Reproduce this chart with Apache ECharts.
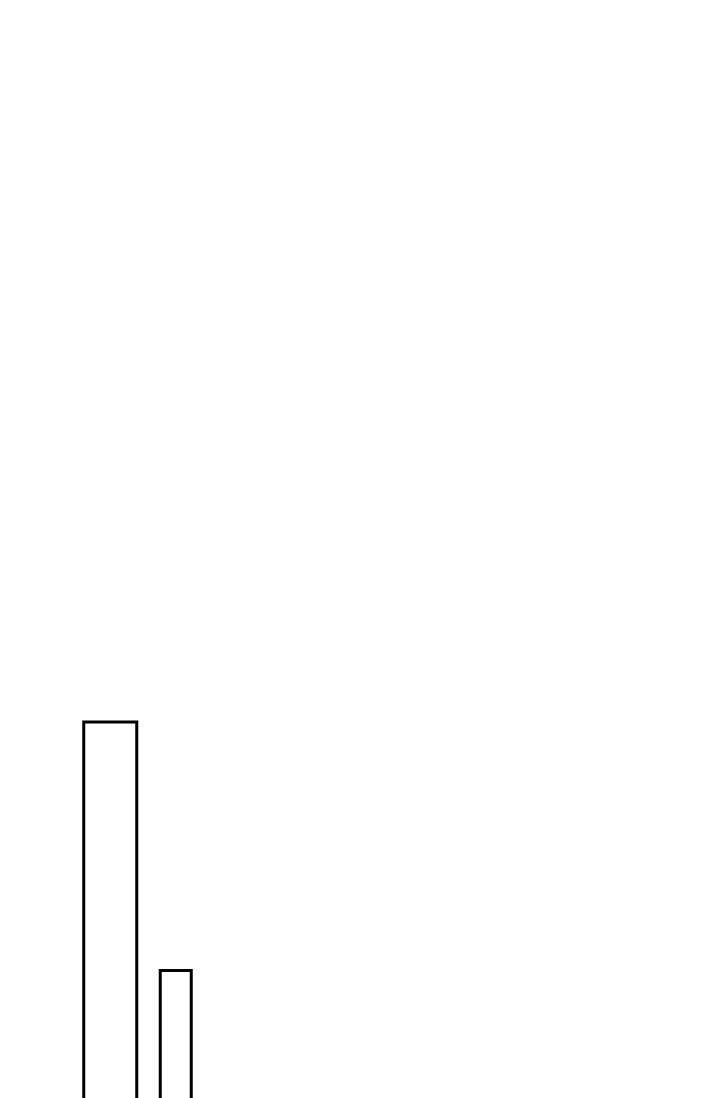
<!DOCTYPE html>
<html>
<head>
<meta charset="utf-8">
<script src="https://cdn.jsdelivr.net/npm/echarts@6/dist/echarts.min.js"></script>
<style>
  html, body { margin: 0; padding: 0; background: #fff; overflow: hidden; }
  #chart { width: 720px; height: 1098px; }
</style>
</head>
<body>
<div id="chart"></div>
<script>
// data
var categories = ['A', 'B'];
var tallBar = [28, '-'];
var shortBar = ['-', 10];

var myChart = echarts.init(document.getElementById('chart'));

var option = {
  backgroundColor: '#ffffff',
  animation: false,
  // grid runs past the bottom edge, so the bars look cut off
  grid: { left: 77.5, width: 131, top: 555, height: 552, outerBoundsMode: 'none' },
  xAxis: [
    { type: 'category', data: categories, show: false },
    { type: 'category', data: categories, show: false }
  ],
  yAxis: { type: 'value', min: 0, max: 40, show: false },
  series: [
    {
      type: 'bar',
      xAxisIndex: 0,
      data: tallBar,
      barWidth: 56,
      itemStyle: { color: '#ffffff', borderColor: '#000000', borderWidth: 3 }
    },
    {
      type: 'bar',
      xAxisIndex: 1,
      data: shortBar,
      barWidth: 34,
      itemStyle: { color: '#ffffff', borderColor: '#000000', borderWidth: 3 }
    }
  ]
};

myChart.setOption(option);
</script>
</body>
</html>
